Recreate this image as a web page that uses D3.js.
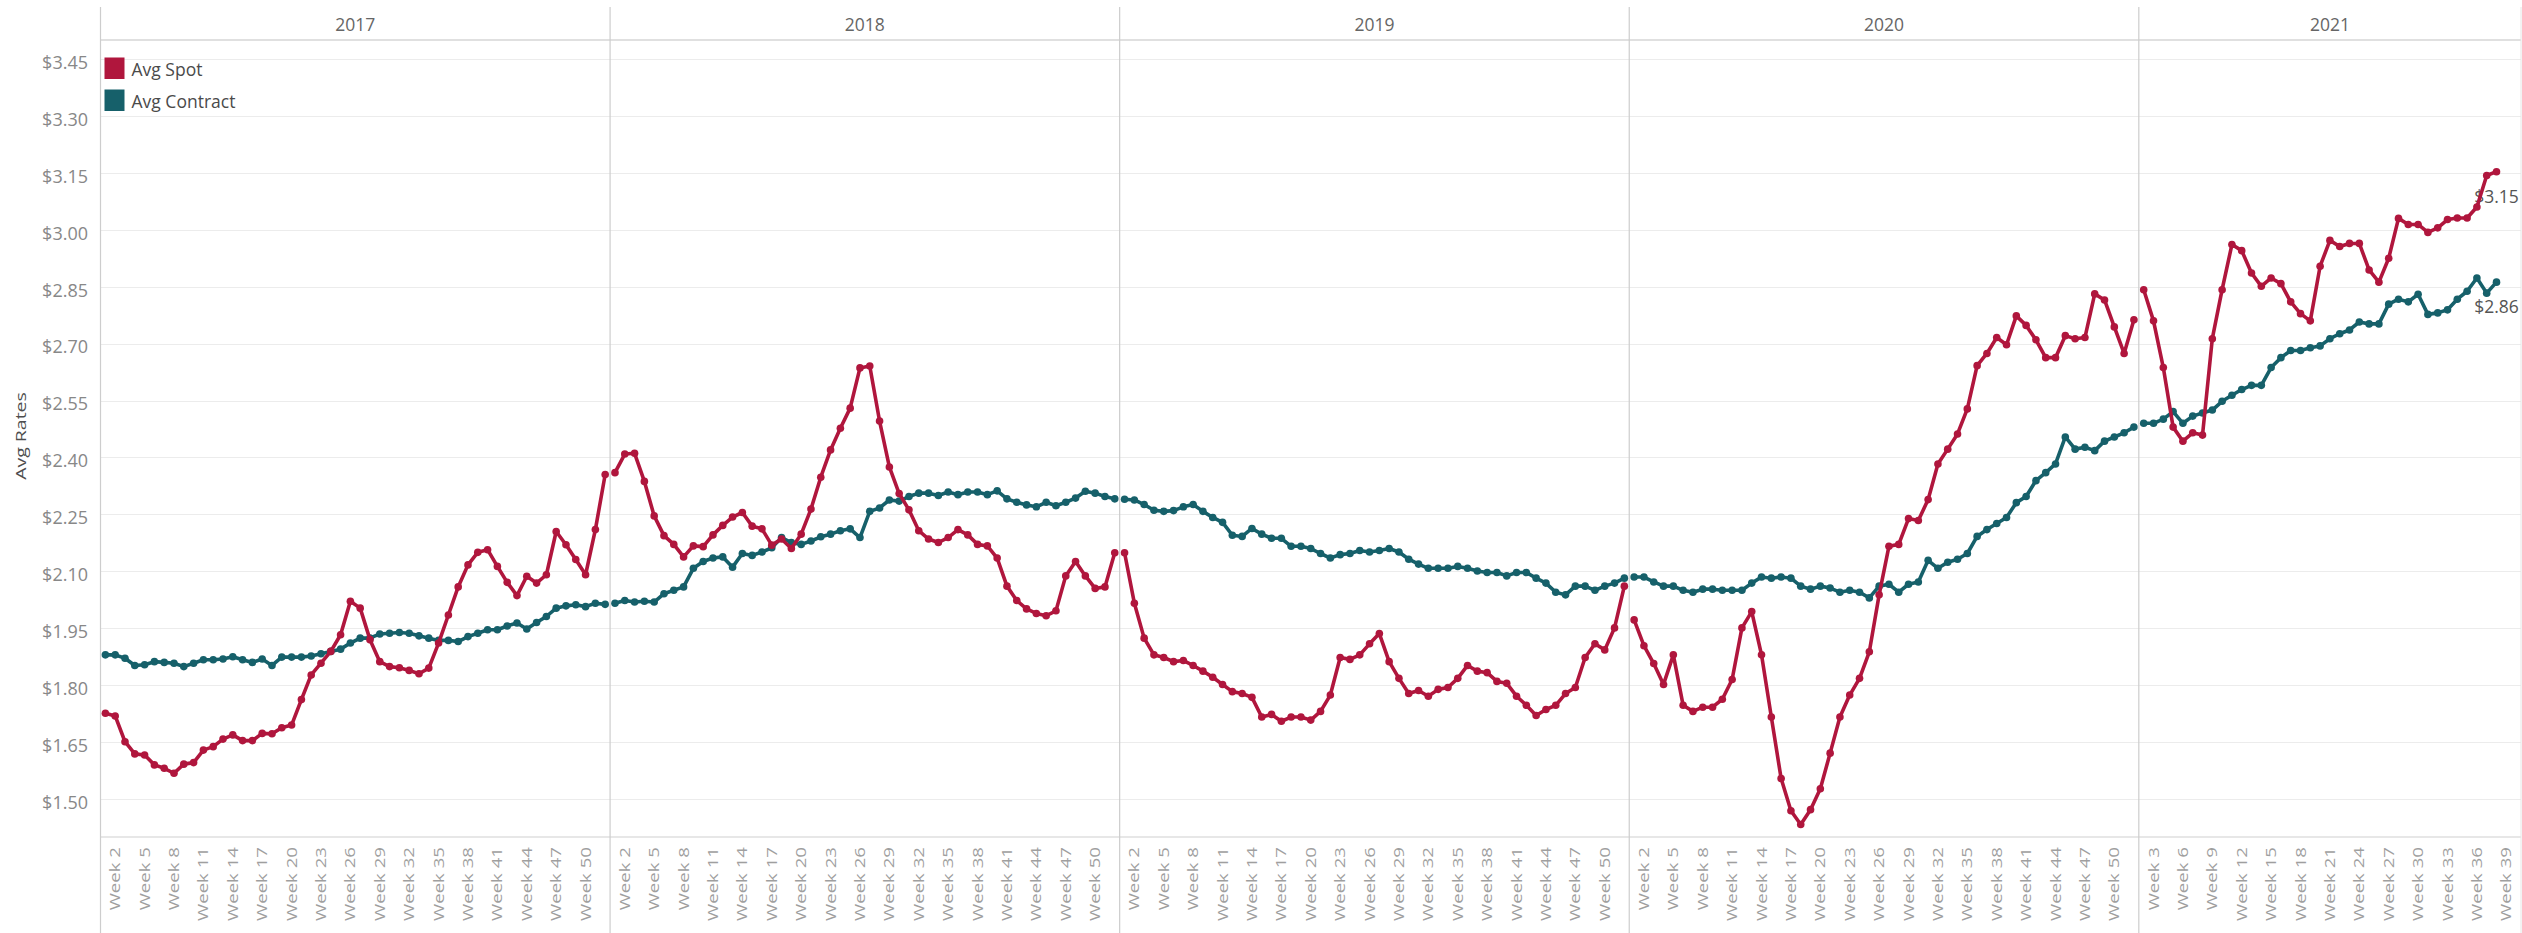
<!DOCTYPE html>
<html>
<head>
<meta charset="utf-8">
<script src="https://cdn.jsdelivr.net/npm/d3@7"></script>
<style>
  body { margin: 0; background: #ffffff; }
  svg { display: block; font-family: "Open Sans", "DejaVu Sans", sans-serif; }
</style>
</head>
<body>
<svg id="chart" width="2522" height="933"></svg>
<script>
// ---- Data -------------------------------------------------------------
const years = ["2017", "2018", "2019", "2020", "2021"];
const firstWeek = [1, 1, 1, 1, 2];
const lastWeek = [52, 52, 52, 52, 40];

const seriesNames = ["Avg Spot", "Avg Contract"];

// Avg spot rate ($/mile), one value per week starting at firstWeek
const spot2017 = [1.726, 1.719, 1.651, 1.619, 1.616, 1.590, 1.581, 1.568, 1.592, 1.596,
  1.629, 1.638, 1.658, 1.669, 1.654, 1.654, 1.673, 1.672, 1.688, 1.695,
  1.762, 1.827, 1.858, 1.889, 1.933, 2.021, 2.003, 1.920, 1.862, 1.849,
  1.846, 1.839, 1.830, 1.845, 1.911, 1.985, 2.059, 2.117, 2.150, 2.157,
  2.113, 2.071, 2.036, 2.087, 2.069, 2.091, 2.205, 2.170, 2.131, 2.091,
  2.210, 2.355];
const spot2018 = [2.360, 2.409, 2.411, 2.337, 2.246, 2.194, 2.171, 2.138, 2.167, 2.165,
  2.196, 2.221, 2.243, 2.255, 2.219, 2.212, 2.169, 2.185, 2.160, 2.198,
  2.264, 2.348, 2.420, 2.477, 2.530, 2.636, 2.641, 2.496, 2.375, 2.305,
  2.262, 2.207, 2.185, 2.176, 2.189, 2.210, 2.196, 2.171, 2.167, 2.135,
  2.061, 2.023, 2.001, 1.989, 1.983, 1.996, 2.088, 2.126, 2.088, 2.055,
  2.059, 2.149];
const spot2019 = [2.149, 2.016, 1.924, 1.880, 1.873, 1.862, 1.865, 1.852, 1.837, 1.821,
  1.802, 1.783, 1.778, 1.768, 1.716, 1.723, 1.705, 1.716, 1.716, 1.708,
  1.731, 1.774, 1.873, 1.868, 1.880, 1.909, 1.936, 1.862, 1.818, 1.778,
  1.786, 1.771, 1.789, 1.794, 1.818, 1.852, 1.837, 1.833, 1.810, 1.805,
  1.771, 1.747, 1.720, 1.736, 1.747, 1.778, 1.794, 1.873, 1.909, 1.893,
  1.951, 2.061];
const spot2020 = [1.972, 1.904, 1.857, 1.802, 1.880, 1.747, 1.731, 1.742, 1.742, 1.763,
  1.815, 1.951, 1.994, 1.880, 1.716, 1.554, 1.469, 1.433, 1.472, 1.527,
  1.621, 1.716, 1.774, 1.818, 1.888, 2.038, 2.166, 2.171, 2.239, 2.234,
  2.289, 2.383, 2.422, 2.462, 2.528, 2.642, 2.674, 2.716, 2.697, 2.773,
  2.748, 2.710, 2.663, 2.663, 2.721, 2.713, 2.716, 2.831, 2.815, 2.744,
  2.674, 2.763];
const spot2021 = [2.842, 2.760, 2.637, 2.480, 2.443, 2.465, 2.459, 2.713, 2.842, 2.961,
  2.945, 2.886, 2.851, 2.873, 2.858, 2.810, 2.779, 2.760, 2.904, 2.972,
  2.956, 2.964, 2.964, 2.894, 2.862, 2.925, 3.030, 3.014, 3.014, 2.993,
  3.005, 3.027, 3.031, 3.031, 3.060, 3.143, 3.153];

// Avg contract rate ($/mile)
const contract2017 = [1.880, 1.880, 1.871, 1.852, 1.854, 1.862, 1.860, 1.858, 1.849, 1.858,
  1.867, 1.867, 1.869, 1.875, 1.867, 1.860, 1.869, 1.852, 1.874, 1.874,
  1.874, 1.877, 1.883, 1.889, 1.895, 1.911, 1.924, 1.924, 1.935, 1.937,
  1.939, 1.937, 1.930, 1.924, 1.918, 1.918, 1.915, 1.928, 1.937, 1.946,
  1.946, 1.956, 1.964, 1.948, 1.965, 1.981, 2.003, 2.009, 2.012, 2.007,
  2.016, 2.013];
const contract2018 = [2.016, 2.023, 2.019, 2.021, 2.019, 2.041, 2.050, 2.059, 2.108, 2.126,
  2.135, 2.138, 2.111, 2.147, 2.142, 2.151, 2.162, 2.189, 2.176, 2.171,
  2.180, 2.191, 2.198, 2.207, 2.212, 2.189, 2.258, 2.267, 2.288, 2.285,
  2.297, 2.306, 2.306, 2.300, 2.309, 2.302, 2.309, 2.309, 2.302, 2.312,
  2.291, 2.282, 2.275, 2.270, 2.282, 2.273, 2.282, 2.293, 2.311, 2.306,
  2.297, 2.291];
const contract2019 = [2.290, 2.288, 2.276, 2.261, 2.258, 2.260, 2.270, 2.276, 2.258, 2.242,
  2.229, 2.195, 2.192, 2.213, 2.198, 2.187, 2.187, 2.166, 2.166, 2.160,
  2.147, 2.135, 2.144, 2.147, 2.155, 2.151, 2.155, 2.160, 2.151, 2.132,
  2.119, 2.108, 2.108, 2.108, 2.113, 2.108, 2.101, 2.097, 2.097, 2.088,
  2.097, 2.097, 2.082, 2.069, 2.045, 2.038, 2.061, 2.061, 2.050, 2.061,
  2.069, 2.082];
const contract2020 = [2.085, 2.085, 2.072, 2.061, 2.061, 2.050, 2.045, 2.053, 2.053, 2.050,
  2.050, 2.050, 2.069, 2.085, 2.082, 2.085, 2.082, 2.061, 2.053, 2.061,
  2.056, 2.045, 2.050, 2.045, 2.030, 2.061, 2.066, 2.045, 2.066, 2.072,
  2.129, 2.108, 2.124, 2.132, 2.147, 2.192, 2.210, 2.226, 2.242, 2.281,
  2.297, 2.339, 2.360, 2.383, 2.454, 2.422, 2.427, 2.418, 2.443, 2.454,
  2.465, 2.480];
const contract2021 = [2.490, 2.490, 2.501, 2.521, 2.490, 2.509, 2.517, 2.525, 2.548, 2.564,
  2.579, 2.590, 2.590, 2.637, 2.663, 2.682, 2.682, 2.689, 2.694, 2.713,
  2.726, 2.736, 2.757, 2.752, 2.752, 2.804, 2.817, 2.810, 2.830, 2.777,
  2.781, 2.789, 2.817, 2.838, 2.873, 2.833, 2.862];

const spotByYear = [spot2017, spot2018, spot2019, spot2020, spot2021];
const contractByYear = [contract2017, contract2018, contract2019, contract2020, contract2021];

const yTicks = [1.50, 1.65, 1.80, 1.95, 2.10, 2.25, 2.40, 2.55, 2.70, 2.85, 3.00, 3.15, 3.30, 3.45];

// ---- Layout -----------------------------------------------------------
const W = 2522, H = 933;
const plotLeft = 100.5, plotRight = 2521;
const plotTop = 40, plotBottom = 837;
const colors = { "Avg Spot": "#b0163d", "Avg Contract": "#16606a" };

const svg = d3.select("#chart");

const key = (yr, wk) => yr + "|" + wk;
const keys = years.flatMap((yr, i) =>
  d3.range(firstWeek[i], lastWeek[i] + 1).map(wk => key(yr, wk)));

const x = d3.scaleBand().domain(keys).range([plotLeft, plotRight]).paddingInner(0).paddingOuter(0);
const y = d3.scaleLinear().domain([1.4, 3.5]).range([plotBottom, plotTop]);
const cx = k => x(k) + x.bandwidth() / 2;

const panels = years.map((yr, i) => {
  const x0 = x(key(yr, firstWeek[i]));
  const x1 = x(key(yr, lastWeek[i])) + x.bandwidth();
  return { year: yr, i, x0, x1 };
});

// ---- Gridlines & frame ------------------------------------------------
svg.append("g").selectAll("line").data(yTicks).join("line")
  .attr("x1", plotLeft).attr("x2", plotRight)
  .attr("y1", d => Math.round(y(d)) + 0.5).attr("y2", d => Math.round(y(d)) + 0.5)
  .attr("stroke", "#ececec").attr("stroke-width", 1);

svg.append("line")
  .attr("x1", plotLeft).attr("x2", plotRight)
  .attr("y1", plotTop).attr("y2", plotTop)
  .attr("stroke", "#d6d6d6").attr("stroke-width", 1.5);

svg.append("line")
  .attr("x1", plotLeft).attr("x2", plotRight)
  .attr("y1", plotBottom).attr("y2", plotBottom)
  .attr("stroke", "#cfcfcf").attr("stroke-width", 1.2);

const dividerXs = [plotLeft].concat(panels.slice(1).map(p => p.x0));
svg.append("g").selectAll("line").data(dividerXs).join("line")
  .attr("x1", d => d).attr("x2", d => d)
  .attr("y1", 7).attr("y2", H)
  .attr("stroke", "#cdcdcd").attr("stroke-width", 1.2);
svg.append("line")
  .attr("x1", plotRight).attr("x2", plotRight)
  .attr("y1", 7).attr("y2", H)
  .attr("stroke", "#e6e6e6").attr("stroke-width", 1);

// ---- Year headers -----------------------------------------------------
svg.append("g").selectAll("text").data(panels).join("text")
  .attr("x", d => (d.x0 + d.x1) / 2).attr("y", 31)
  .attr("text-anchor", "middle")
  .attr("font-size", 17.5).attr("fill", "#666666")
  .text(d => d.year);

// ---- Y axis -----------------------------------------------------------
const yAxis = svg.append("g")
  .attr("transform", `translate(${plotLeft},0)`)
  .call(d3.axisLeft(y).tickValues(yTicks).tickFormat(d3.format("$.2f")).tickSize(0).tickPadding(12.5));
yAxis.select(".domain").remove();
yAxis.selectAll("text")
  .attr("font-family", "'Open Sans', sans-serif")
  .attr("font-size", 18).attr("fill", "#888888").attr("dy", "0.52em");

svg.append("text")
  .attr("transform", "translate(21,436) rotate(-90) scale(1.3,1)")
  .attr("text-anchor", "middle").attr("dy", "0.35em")
  .attr("font-size", 15).attr("fill", "#4d4d4d")
  .text("Avg Rates");

// ---- X axis (week labels, every third week per panel) ------------------
const weekTickKeys = years.flatMap((yr, i) =>
  d3.range(firstWeek[i], lastWeek[i] + 1)
    .filter((wk, j) => j % 3 === 1)
    .map(wk => key(yr, wk)));

svg.append("g").selectAll("text").data(weekTickKeys).join("text")
  .attr("transform", k => `translate(${cx(k)},847) rotate(-90) scale(1.33,1)`)
  .attr("text-anchor", "end").attr("dy", "0.36em")
  .attr("font-size", 14).attr("fill", "#9f9f9f")
  .text(k => "Week " + k.split("|")[1]);

// ---- Series -------------------------------------------------------------
function seriesPoints(values, i) {
  return values.map((v, j) => ({ key: key(years[i], firstWeek[i] + j), value: v }));
}
const series = [
  { name: "Avg Contract", byYear: contractByYear.map(seriesPoints) },
  { name: "Avg Spot", byYear: spotByYear.map(seriesPoints) }
];

// Labels on the latest value of each series (drawn beneath the lines)
series.forEach(s => {
  const pts = s.byYear[s.byYear.length - 1];
  const last = pts[pts.length - 1];
  svg.append("text")
    .attr("x", cx(last.key)).attr("y", y(last.value) + 31)
    .attr("text-anchor", "middle")
    .attr("font-size", 17.5).attr("fill", "#555555")
    .text(d3.format("$.2f")(last.value));
});

const line = d3.line().x(d => cx(d.key)).y(d => y(d.value));

series.forEach(s => {
  const g = svg.append("g").attr("class", "series");
  s.byYear.forEach(pts => {
    g.append("path").datum(pts)
      .attr("d", line)
      .attr("fill", "none")
      .attr("stroke", colors[s.name])
      .attr("stroke-width", 3.6)
      .attr("stroke-linejoin", "round");
    g.append("g").selectAll("circle").data(pts).join("circle")
      .attr("cx", d => cx(d.key)).attr("cy", d => y(d.value))
      .attr("r", 3.8)
      .attr("fill", colors[s.name]);
  });
});

// ---- Legend -------------------------------------------------------------
const legend = svg.append("g").attr("transform", "translate(104.5,57.5)");
seriesNames.forEach((name, i) => {
  legend.append("rect")
    .attr("x", 0).attr("y", i * 32)
    .attr("width", 20).attr("height", 21.5)
    .attr("fill", colors[name]);
  legend.append("text")
    .attr("x", 27).attr("y", i * 32 + 18.5)
    .attr("font-size", 17.5).attr("fill", "#4a4a4a")
    .text(name);
});
</script>
</body>
</html>
